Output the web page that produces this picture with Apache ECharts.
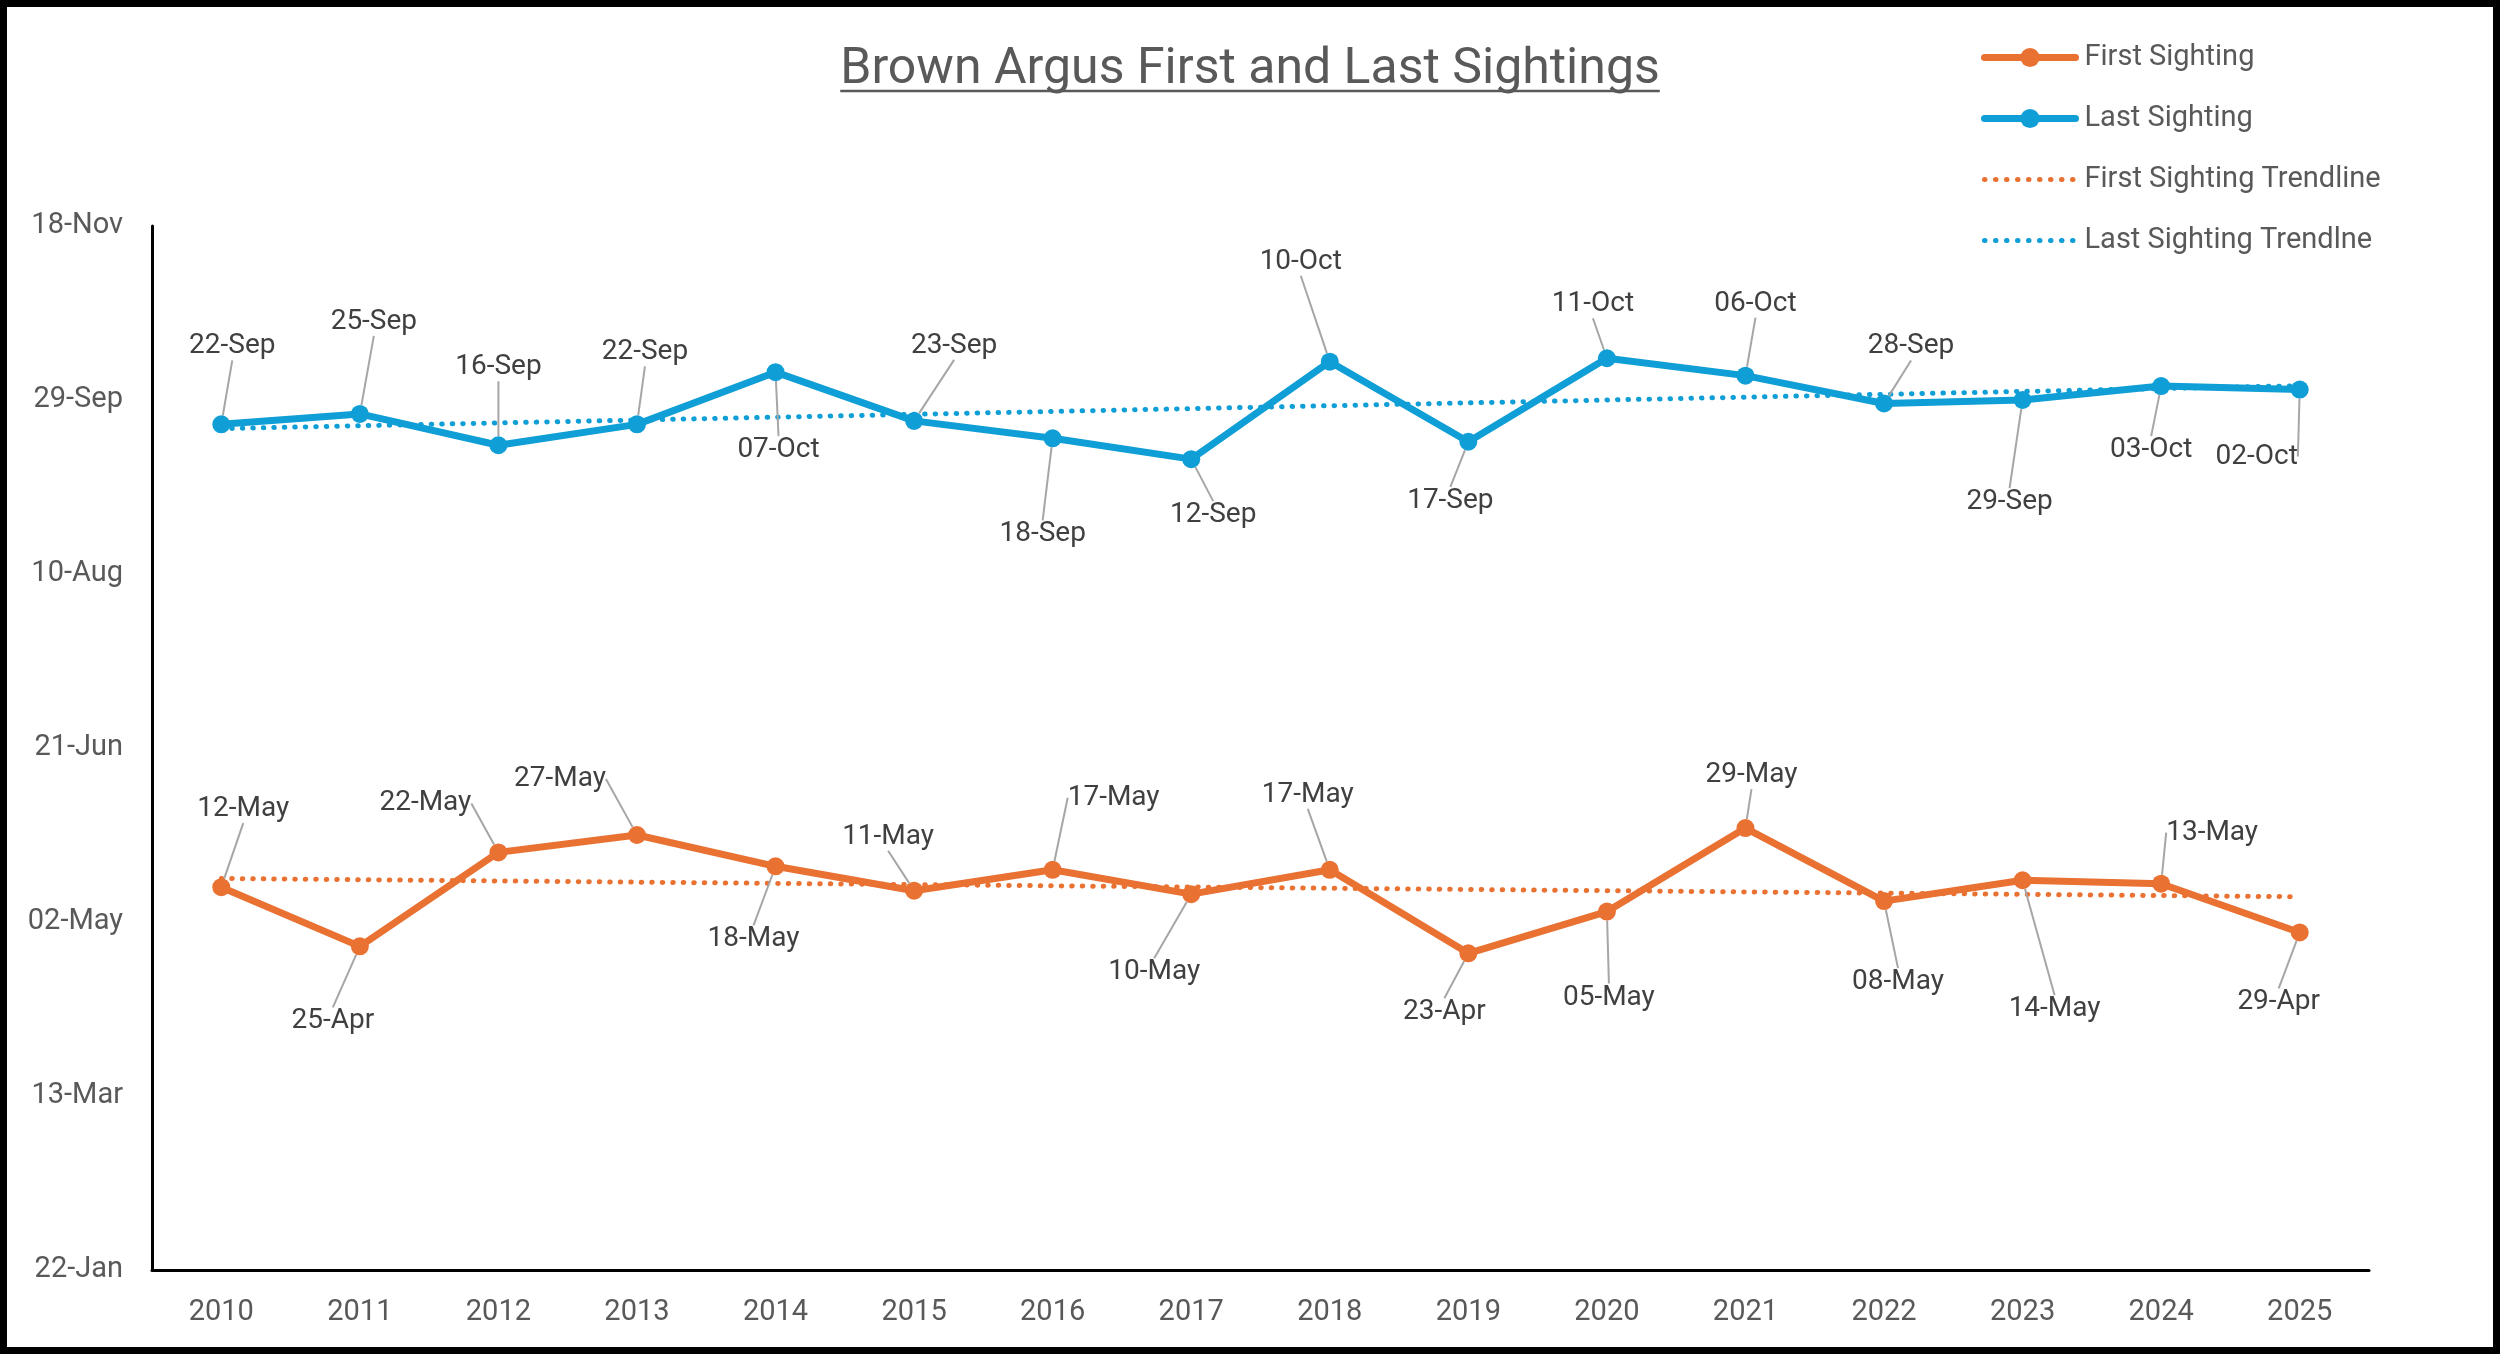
<!DOCTYPE html>
<html>
<head>
<meta charset="utf-8">
<script src="https://cdn.jsdelivr.net/npm/echarts@6/dist/echarts.min.js"></script>
<style>
html,body{margin:0;padding:0;background:#fff;}
#chart{width:2500px;height:1354px;}
</style>
</head>
<body>
<div id="chart"></div>
<script>
// ---- data ----
const years = ['2010','2011','2012','2013','2014','2015','2016','2017','2018','2019','2020','2021','2022','2023','2024','2025'];
const firstSighting = ['12-May','25-Apr','22-May','27-May','18-May','11-May','17-May','10-May','17-May','23-Apr','05-May','29-May','08-May','14-May','13-May','29-Apr'];
const lastSighting  = ['22-Sep','25-Sep','16-Sep','22-Sep','07-Oct','23-Sep','18-Sep','12-Sep','10-Oct','17-Sep','11-Oct','06-Oct','28-Sep','29-Sep','03-Oct','02-Oct'];
const yTickLabels = ['22-Jan','13-Mar','02-May','21-Jun','10-Aug','29-Sep','18-Nov'];

// label placement offsets (layout only, in px relative to point)
const firstLabelOffsets = [[22,-78],[-27,75],[-73,-49],[-77,-56],[-22,73],[-26,-54],[61,-72],[-37,78],[-22,-75],[-24,59],[2,86],[6,-53],[14,81],[32,129],[51,-51],[-21,70]];
const lastLabelOffsets  = [[11,-78],[14,-92],[0,-78],[8,-72],[3,78],[40,-75],[-10,96],[22,56],[-29,-100],[-18,59],[-14,-54],[10,-72],[27,-57],[-13,102],[-10,64],[-43,67]];

// ---- helpers ----
const MONTHS = ['Jan','Feb','Mar','Apr','May','Jun','Jul','Aug','Sep','Oct','Nov','Dec'];
const MDAYS = [31,28,31,30,31,30,31,31,30,31,30,31];
const BASE = 22; // day-of-year of 22-Jan (axis origin)
function doy(s){
  const [d,m] = s.split('-');
  const mi = MONTHS.indexOf(m);
  let n = 0; for(let i=0;i<mi;i++) n += MDAYS[i];
  return n + parseInt(d,10);
}
function toVal(s){ return doy(s) - BASE; }
function linFit(vals){
  const n = vals.length; let sx=0, sy=0, sxx=0, sxy=0;
  vals.forEach((y,x)=>{ sx+=x; sy+=y; sxx+=x*x; sxy+=x*y; });
  const b = (n*sxy - sx*sy)/(n*sxx - sx*sx);
  const a = (sy - b*sx)/n;
  return vals.map((_,x)=> +(a + b*x).toFixed(3));
}

const firstVals = firstSighting.map(toVal);
const lastVals = lastSighting.map(toVal);
const firstTrend = linFit(firstVals);
const lastTrend = linFit(lastVals);

const ORANGE = '#E97132';
const BLUE = '#0F9ED5';
const FONT = 'Roboto';

const titleText = 'Brown Argus First and Last Sightings';
const titleFont = 50;
const cv = document.createElement('canvas').getContext('2d');
cv.font = titleFont + 'px ' + FONT;
const titleW = cv.measureText(titleText).width;
const titleCx = 1250, titleCy = 70;

function mkLabel(offsets){
  return function(params){
    const o = offsets[params.dataIndex];
    const cx = params.rect.x + params.rect.width/2;
    const cy = params.rect.y + params.rect.height/2;
    return {x: cx + o[0], y: cy + o[1], align:'center', verticalAlign:'middle'};
  };
}

const chart = echarts.init(document.getElementById('chart'));
chart.setOption({
  backgroundColor:'#ffffff',
  animation:false,
  textStyle:{fontFamily:FONT},
  graphic:[
    {type:'rect', shape:{x:3.5,y:3.5,width:2493,height:1347}, style:{fill:'none',stroke:'#000',lineWidth:7}, silent:true, z:100},
    {type:'text', x:titleCx, y:titleCy, style:{text:titleText, fontFamily:FONT, fontSize:titleFont, fill:'#595959', align:'center', verticalAlign:'middle'}},
    {type:'line', shape:{x1:titleCx-titleW/2, y1:91, x2:titleCx+titleW/2, y2:91}, style:{stroke:'#595959', lineWidth:2.5}}
  ],
  legend:{
    orient:'vertical', left:1976, top:38, itemWidth:91, itemHeight:24, itemGap:32,
    textStyle:{fontFamily:FONT, fontSize:29, color:'#595959', padding:[0,0,0,4]},
    data:[
      {name:'First Sighting', lineStyle:{width:7, cap:'round'}},
      {name:'Last Sighting', lineStyle:{width:7, cap:'round'}},
      {name:'First Sighting Trendline', itemStyle:{opacity:0}, lineStyle:{width:5, type:[0.5,10.5], cap:'round'}},
      {name:'Last Sighting Trendlne', itemStyle:{opacity:0}, lineStyle:{width:5, type:[0.5,10.5], cap:'round'}}
    ]
  },
  grid:{left:152, right:131, top:226, bottom:84, containLabel:false},
  xAxis:{
    type:'category', data:years, boundaryGap:true,
    axisLine:{lineStyle:{color:'#000', width:3}},
    axisTick:{show:false},
    axisLabel:{fontFamily:FONT, fontSize:29, color:'#595959', margin:28}
  },
  yAxis:{
    type:'value', min:0, max:300, interval:50,
    axisLine:{show:true, lineStyle:{color:'#000', width:3}},
    axisTick:{show:false},
    splitLine:{show:false},
    axisLabel:{fontFamily:FONT, fontSize:29, color:'#595959', margin:29,
      formatter:(v)=> yTickLabels[Math.round(v/50)]}
  },
  series:[
    {name:'First Sighting Trendline', type:'line', data:firstTrend, showSymbol:false, symbol:'none',
      lineStyle:{color:ORANGE, width:5, type:[0.5,10], cap:'round'}, itemStyle:{color:ORANGE}, z:3, silent:true},
    {name:'Last Sighting Trendlne', type:'line', data:lastTrend, showSymbol:false, symbol:'none',
      lineStyle:{color:BLUE, width:5, type:[0.5,10], cap:'round'}, itemStyle:{color:BLUE}, z:3, silent:true},
    {name:'First Sighting', type:'line', data:firstVals, symbol:'circle', symbolSize:18,
      lineStyle:{color:ORANGE, width:7}, itemStyle:{color:ORANGE}, z:4,
      label:{show:true, position:'inside', fontFamily:FONT, fontSize:28, color:'#404040',
        formatter:(p)=> firstSighting[p.dataIndex]},
      labelLine:{show:true, lineStyle:{color:'#A6A6A6', width:2}},
      labelLayout:mkLabel(firstLabelOffsets)},
    {name:'Last Sighting', type:'line', data:lastVals, symbol:'circle', symbolSize:18,
      lineStyle:{color:BLUE, width:7}, itemStyle:{color:BLUE}, z:4,
      label:{show:true, position:'inside', fontFamily:FONT, fontSize:28, color:'#404040',
        formatter:(p)=> lastSighting[p.dataIndex]},
      labelLine:{show:true, lineStyle:{color:'#A6A6A6', width:2}},
      labelLayout:mkLabel(lastLabelOffsets)}
  ]
});
</script>
</body>
</html>
